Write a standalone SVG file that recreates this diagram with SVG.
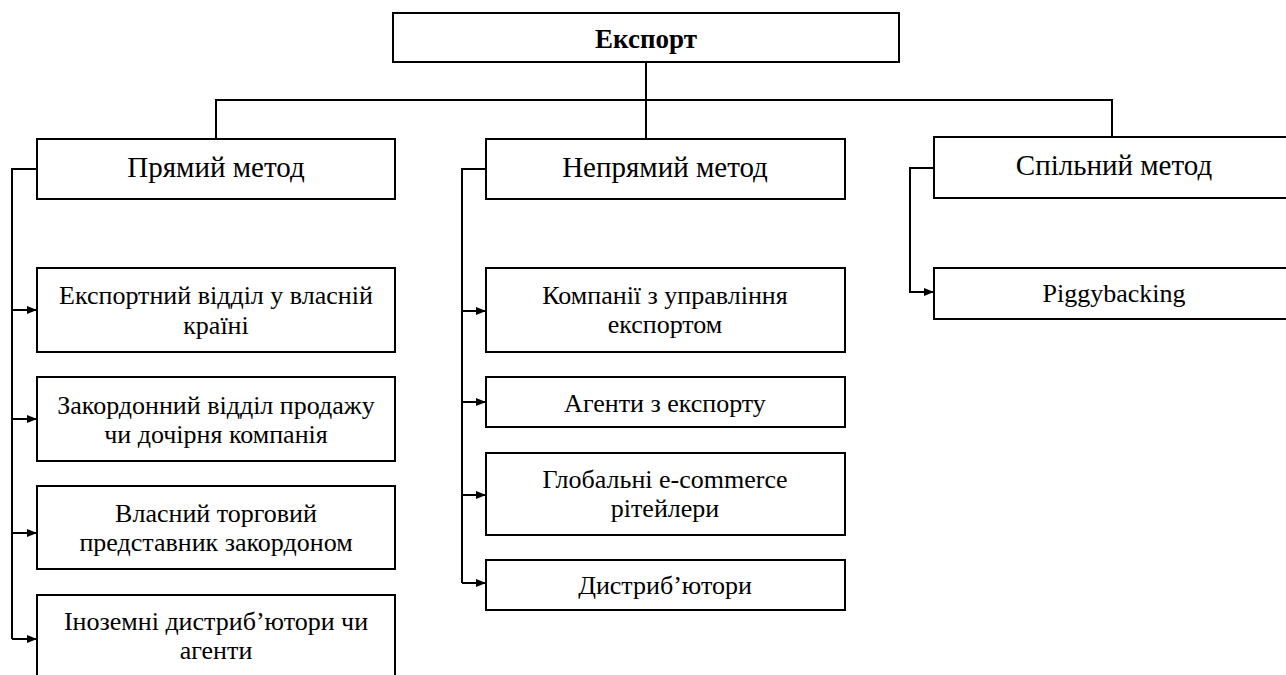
<svg xmlns="http://www.w3.org/2000/svg" width="1286" height="675" viewBox="0 0 1286 675">
<defs>
<marker id="ah" markerWidth="10" markerHeight="8" refX="9" refY="4" orient="auto" markerUnits="userSpaceOnUse">
<path d="M0,0 L10,4 L0,8 Z" fill="#000"/>
</marker>
</defs>
<rect width="1286" height="675" fill="#fff"/>
<g id="connectors" fill="none" stroke="#000" stroke-width="2">
<path d="M646,62 V138"/>
<path d="M216,139 V100 H1112 V137"/>
<path d="M37,169 H12 V639"/>
<path d="M12,310 H36" marker-end="url(#ah)"/>
<path d="M12,419 H36" marker-end="url(#ah)"/>
<path d="M12,533 H36" marker-end="url(#ah)"/>
<path d="M12,639 H36" marker-end="url(#ah)"/>
<path d="M486,169 H462 V583"/>
<path d="M462,311 H485" marker-end="url(#ah)"/>
<path d="M462,402 H485" marker-end="url(#ah)"/>
<path d="M462,495 H485" marker-end="url(#ah)"/>
<path d="M462,583 H485" marker-end="url(#ah)"/>
<path d="M934,168 H910 V292 H933" marker-end="url(#ah)"/>
</g>
<g id="n-export"><rect x="393" y="13" width="506" height="49" fill="#fff" stroke="#000" stroke-width="2"/><text font-family="Liberation Serif" font-size="27" font-weight="bold" text-anchor="middle" x="646" y="48">Експорт</text></g>
<g id="n-direct"><rect x="37" y="139" width="358" height="60" fill="#fff" stroke="#000" stroke-width="2"/><text font-family="Liberation Serif" font-size="29" text-anchor="middle" x="216" y="177">Прямий метод</text></g>
<g id="n-indirect"><rect x="486" y="139" width="359" height="60" fill="#fff" stroke="#000" stroke-width="2"/><text font-family="Liberation Serif" font-size="29" text-anchor="middle" x="665" y="177">Непрямий метод</text></g>
<g id="n-joint"><rect x="934" y="137" width="360" height="61" fill="#fff" stroke="#000" stroke-width="2"/><text font-family="Liberation Serif" font-size="29" text-anchor="middle" x="1114" y="175">Спільний метод</text></g>
<g id="n-d1"><rect x="37" y="268" width="358" height="84" fill="#fff" stroke="#000" stroke-width="2"/><text font-family="Liberation Serif" font-size="26" text-anchor="middle" x="216" y="304">Експортний відділ у власній</text><text font-family="Liberation Serif" font-size="26" text-anchor="middle" x="216" y="334">країні</text></g>
<g id="n-d2"><rect x="37" y="377" width="358" height="84" fill="#fff" stroke="#000" stroke-width="2"/><text font-family="Liberation Serif" font-size="26" text-anchor="middle" x="216" y="414">Закордонний відділ продажу</text><text font-family="Liberation Serif" font-size="26" text-anchor="middle" x="216" y="443">чи дочірня компанія</text></g>
<g id="n-d3"><rect x="37" y="486" width="358" height="83" fill="#fff" stroke="#000" stroke-width="2"/><text font-family="Liberation Serif" font-size="26" text-anchor="middle" x="216" y="522">Власний торговий</text><text font-family="Liberation Serif" font-size="26" text-anchor="middle" x="216" y="551">представник закордоном</text></g>
<g id="n-d4"><rect x="37" y="595" width="358" height="90" fill="#fff" stroke="#000" stroke-width="2"/><text font-family="Liberation Serif" font-size="26" text-anchor="middle" x="216" y="630">Іноземні дистриб’ютори чи</text><text font-family="Liberation Serif" font-size="26" text-anchor="middle" x="216" y="659">агенти</text></g>
<g id="n-i1"><rect x="486" y="268" width="359" height="84" fill="#fff" stroke="#000" stroke-width="2"/><text font-family="Liberation Serif" font-size="26" text-anchor="middle" x="665" y="304">Компанії з управління</text><text font-family="Liberation Serif" font-size="26" text-anchor="middle" x="665" y="333">експортом</text></g>
<g id="n-i2"><rect x="486" y="377" width="359" height="50" fill="#fff" stroke="#000" stroke-width="2"/><text font-family="Liberation Serif" font-size="26" text-anchor="middle" x="665" y="412">Агенти з експорту</text></g>
<g id="n-i3"><rect x="486" y="453" width="359" height="82" fill="#fff" stroke="#000" stroke-width="2"/><text font-family="Liberation Serif" font-size="26" text-anchor="middle" x="665" y="488">Глобальні e-commerce</text><text font-family="Liberation Serif" font-size="26" text-anchor="middle" x="665" y="517">рітейлери</text></g>
<g id="n-i4"><rect x="486" y="560" width="359" height="50" fill="#fff" stroke="#000" stroke-width="2"/><text font-family="Liberation Serif" font-size="26" text-anchor="middle" x="665" y="594">Дистриб’ютори</text></g>
<g id="n-j1"><rect x="934" y="268" width="360" height="51" fill="#fff" stroke="#000" stroke-width="2"/><text font-family="Liberation Serif" font-size="26" text-anchor="middle" x="1114" y="302">Piggybacking</text></g>
</svg>
